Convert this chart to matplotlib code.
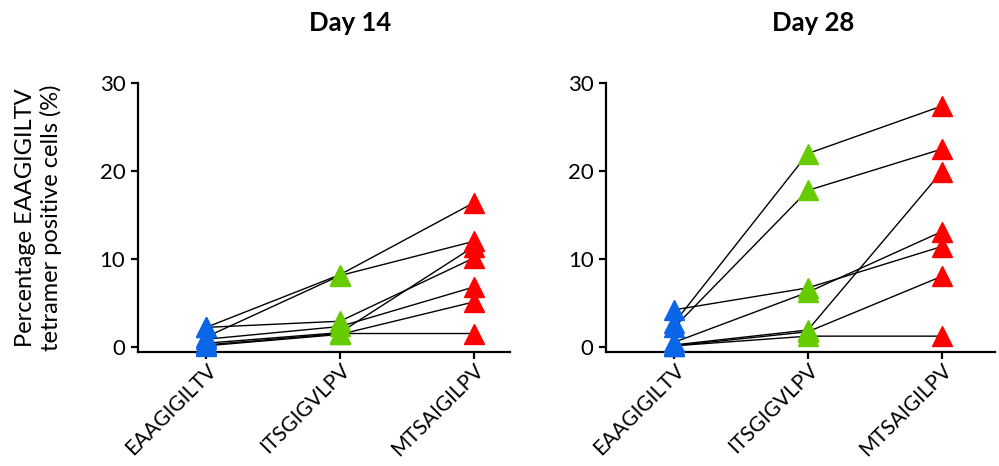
import matplotlib
matplotlib.use("Agg")
import matplotlib.pyplot as plt
import matplotlib.transforms as mtransforms

plt.rcParams['font.family'] = ['Lato', 'DejaVu Sans']

peptides = ['EAAGIGILTV', 'ITSGIGVLPV', 'MTSAIGILPV']
colors = ['#0a66e6', '#66cc00', '#ff0000']

# one row per animal: EAAGIGILTV, ITSGIGVLPV, MTSAIGILPV (% tetramer+ cells)
day14 = [
    [2.2, 8.2, 16.4],
    [1.1, 8.1, 12.0],
    [2.2, 2.9, 10.1],
    [0.85, 2.3, 6.8],
    [0.4, 1.6, 11.4],
    [0.1, 1.4, 5.1],
    [0.2, 1.5, 1.5],
]
day28 = [
    [2.7, 22.0, 27.4],
    [2.2, 17.8, 22.5],
    [4.2, 6.7, 11.4],
    [0.5, 6.2, 13.1],
    [0.2, 1.9, 19.9],
    [0.1, 1.7, 8.0],
    [0.1, 1.2, 1.2],
]

fig = plt.figure(figsize=(9.99, 4.66), dpi=100)
ax1 = fig.add_axes([0.138, 0.2453, 0.3725, 0.5759])
ax2 = fig.add_axes([0.6066, 0.2453, 0.3894, 0.5759])

# nudge rotated category labels a few pixels right
shift = mtransforms.ScaledTranslation(6 / 100, 0, fig.dpi_scale_trans)


def draw_panel(ax, rows, xmax):
    x = list(range(len(peptides)))
    for row in rows:
        ax.plot(x, row, color='black', lw=1.0, zorder=2, clip_on=False)
    for j, c in enumerate(colors):
        vals = [row[j] for row in rows]
        ax.plot([j] * len(vals), vals, ls='none', marker='^', ms=14.5,
                color=c, mec=c, zorder=3, clip_on=False)
    ax.set_xlim(-0.51, xmax)
    ax.set_ylim(-0.57, 30)
    ax.set_yticks([0, 10, 20, 30])
    ax.set_xticks(x)
    ax.set_xticklabels(peptides, rotation=45, ha='right', va='top',
                       rotation_mode='anchor', fontsize=15)
    for lab in ax.get_xticklabels():
        lab.set_transform(lab.get_transform() + shift)
    for lab in ax.get_yticklabels():
        lab.set_fontsize(16)
    for s in ['top', 'right']:
        ax.spines[s].set_visible(False)
    for s in ['left', 'bottom']:
        ax.spines[s].set_linewidth(1.6)
    ax.tick_params(axis='both', width=1.6, length=5, pad=4)
    ax.tick_params(axis='x', pad=1)


draw_panel(ax1, day14, 2.27)
draw_panel(ax2, day28, 2.4)

ax1.set_ylabel('Percentage EAAGIGILTV\ntetramer positive cells (%)',
               fontsize=17, labelpad=27, linespacing=1.2)

fig.text(0.350, 0.95, 'Day 14', ha='center', va='center',
         fontsize=18.5, fontweight='bold')
fig.text(0.814, 0.95, 'Day 28', ha='center', va='center',
         fontsize=18.5, fontweight='bold')

fig.savefig('out.png', dpi=100)
